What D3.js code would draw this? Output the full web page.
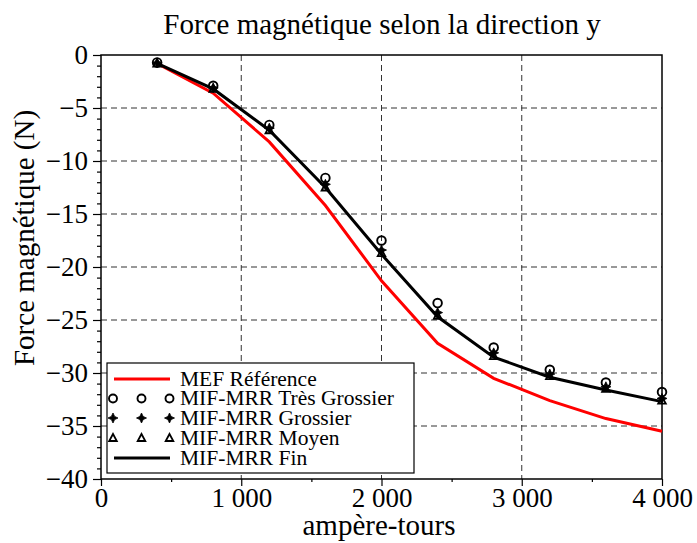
<!DOCTYPE html>
<html><head><meta charset="utf-8">
<script src="https://cdn.jsdelivr.net/npm/d3@7"></script>
<style>body{margin:0;background:#fff}svg{display:block}</style>
</head><body>
<script>
const ampereTours = [400, 800, 1200, 1600, 2000, 2400, 2800, 3200, 3600, 4000];
const mefReference = [-0.8, -3.6, -8.2, -14.2, -21.3, -27.2, -30.5, -32.6, -34.3, -35.5];
const tresGrossier = [-0.7, -2.9, -6.6, -11.6, -17.5, -23.4, -27.6, -29.7, -30.9, -31.8];
const grossier = [-0.75, -3.1, -6.9, -12.2, -18.4, -24.3, -28.1, -30.1, -31.3, -32.4];
const moyen = [-0.8, -3.2, -7.1, -12.5, -18.7, -24.6, -28.4, -30.3, -31.5, -32.6];
const fin = [-0.8, -3.2, -7.1, -12.5, -18.8, -24.7, -28.5, -30.4, -31.6, -32.7];
const xTicks = [0, 1000, 2000, 3000, 4000];
const xTickLabels = ["0", "1 000", "2 000", "3 000", "4 000"];
const yTicks = [0, -5, -10, -15, -20, -25, -30, -35, -40];
const yTickLabels = ["0", "−5", "−10", "−15", "−20", "−25", "−30", "−35", "−40"];
const legendLabels = ["MEF Référence", "MIF-MRR Très Grossier", "MIF-MRR Grossier", "MIF-MRR Moyen", "MIF-MRR Fin"];
const titleText = "Force magnétique selon la direction y";
const xLabel = "ampère-tours";
const yLabel = "Force magnétique (N)";

const W = 697, H = 543;
const FONT = "'Liberation Serif','Times New Roman',serif";
const L = 101, R = 662, T = 55, B = 479;

const svg = d3.select("body").append("svg").attr("width", W).attr("height", H)
  .style("font-family", FONT);

const x = d3.scaleLinear().domain([0, 4000]).range([L, R]);
const y = d3.scaleLinear().domain([-40, 0]).range([B, T]);

// grid
const grid = svg.append("g").attr("stroke", "#333").attr("stroke-width", 1).attr("stroke-dasharray", "6,4");
grid.selectAll("line.v").data(xTicks.filter(d => d > 0 && d < 4000)).join("line")
  .attr("x1", d => x(d)).attr("x2", d => x(d)).attr("y1", T).attr("y2", B);
grid.selectAll("line.h").data(yTicks.filter(d => d < 0 && d > -40)).join("line")
  .attr("class", "h")
  .attr("y1", d => y(d)).attr("y2", d => y(d)).attr("x1", L).attr("x2", R);

// axes
const xAxis = d3.axisBottom(x).tickValues(xTicks).tickSize(7).tickPadding(2)
  .tickFormat((d, i) => xTickLabels[i]);
svg.append("g").attr("transform", `translate(0,${B})`).call(xAxis);
const xMinor = d3.axisBottom(x).tickValues(d3.range(500, 4000, 1000)).tickSize(3).tickFormat("");
svg.append("g").attr("transform", `translate(0,${B})`).call(xMinor).select(".domain").remove();

const yAxis = d3.axisLeft(y).tickValues(yTicks).tickSize(8).tickPadding(5)
  .tickFormat((d, i) => yTickLabels[i]);
svg.append("g").attr("transform", `translate(${L},0)`).call(yAxis);
const yMinor = d3.axisLeft(y).tickValues(d3.range(-39, 0, 1).filter(d => d % 5 !== 0)).tickSize(4).tickFormat("");
svg.append("g").attr("transform", `translate(${L},0)`).call(yMinor).select(".domain").remove();

svg.selectAll(".tick text").attr("font-size", 27).attr("font-family", FONT).attr("fill", "#000");
svg.selectAll(".tick line").attr("stroke", "#000").attr("stroke-width", 1.2);
svg.selectAll(".domain").attr("stroke", "none");

// frame
svg.append("rect").attr("x", L).attr("y", T).attr("width", R - L).attr("height", B - T)
  .attr("fill", "none").attr("stroke", "#000").attr("stroke-width", 1.5);

// lines
const line = d3.line().x((d, i) => x(ampereTours[i])).y(d => y(d));
svg.append("path").attr("d", line(mefReference)).attr("fill", "none").attr("stroke", "#ff0000").attr("stroke-width", 3);
svg.append("path").attr("d", line(fin)).attr("fill", "none").attr("stroke", "#000").attr("stroke-width", 3);

// markers
const starPath = "M0,-5 L1.6,-1.6 L5,0 L1.6,1.6 L0,5 L-1.6,1.6 L-5,0 L-1.6,-1.6 Z";
const triPath = "M0,-4 L3.8,3 L-3.8,3 Z";
const mg = svg.append("g");
mg.selectAll(null).data(tresGrossier).join("circle")
  .attr("cx", (d, i) => x(ampereTours[i])).attr("cy", d => y(d)).attr("r", 4.3)
  .attr("fill", "none").attr("stroke", "#000").attr("stroke-width", 1.9);
mg.selectAll(null).data(grossier).join("path").attr("d", starPath)
  .attr("transform", (d, i) => `translate(${x(ampereTours[i])},${y(d)})`).attr("fill", "#000").attr("stroke", "#000").attr("stroke-width", 0.8);
mg.selectAll(null).data(moyen).join("path").attr("d", triPath)
  .attr("transform", (d, i) => `translate(${x(ampereTours[i])},${y(d)})`).attr("fill", "none").attr("stroke", "#000").attr("stroke-width", 1.8);

// legend
const lg = svg.append("g");
lg.append("rect").attr("x", 107).attr("y", 363).attr("width", 307).attr("height", 110)
  .attr("fill", "#fff").attr("stroke", "#000").attr("stroke-width", 1.2);
const rowY = [379, 398.5, 418, 438, 458];
const symX = [113, 141.5, 169.5];
lg.append("line").attr("x1", 114).attr("x2", 170).attr("y1", rowY[0]).attr("y2", rowY[0]).attr("stroke", "#ff0000").attr("stroke-width", 3);
symX.forEach(sx => {
  lg.append("circle").attr("cx", sx).attr("cy", rowY[1]).attr("r", 4).attr("fill", "none").attr("stroke", "#000").attr("stroke-width", 1.9);
  lg.append("path").attr("d", starPath).attr("transform", `translate(${sx},${rowY[2]})`).attr("fill", "#000").attr("stroke", "#000").attr("stroke-width", 0.8);
  lg.append("path").attr("d", triPath).attr("transform", `translate(${sx},${rowY[3]})`).attr("fill", "none").attr("stroke", "#000").attr("stroke-width", 1.8);
});
lg.append("line").attr("x1", 114).attr("x2", 170).attr("y1", rowY[4]).attr("y2", rowY[4]).attr("stroke", "#000").attr("stroke-width", 3);
lg.selectAll("text").data(legendLabels).join("text")
  .attr("x", 180).attr("y", (d, i) => rowY[i] + 6.5).attr("font-size", 21.5).text(d => d);

// titles
svg.append("text").attr("x", 382).attr("y", 34).attr("text-anchor", "middle").attr("font-size", 29).text(titleText);
svg.append("text").attr("x", 379).attr("y", 535).attr("text-anchor", "middle").attr("font-size", 29).text(xLabel);
svg.append("text").attr("transform", "translate(34,238) rotate(-90)").attr("text-anchor", "middle").attr("font-size", 29).text(yLabel);
</script>
</body></html>
